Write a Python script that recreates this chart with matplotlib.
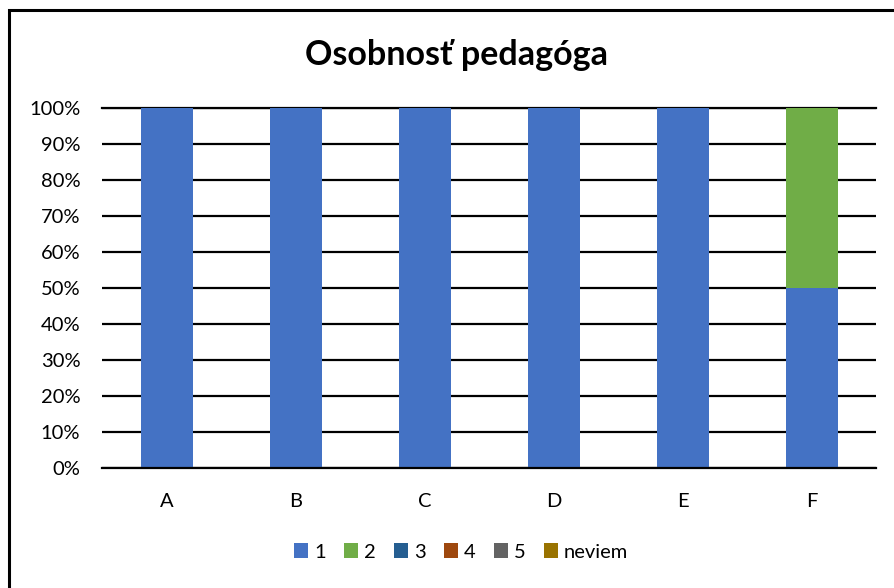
import matplotlib.pyplot as plt
import numpy as np
from matplotlib.patches import Rectangle

plt.rcParams['font.family'] = ['Lato', 'DejaVu Sans']

categories = ['A', 'B', 'C', 'D', 'E', 'F']
series_names = ['1', '2', '3', '4', '5', 'neviem']
values_1 = [100, 100, 100, 100, 100, 50]
values_2 = [0, 0, 0, 0, 0, 50]
values_3 = [0, 0, 0, 0, 0, 0]
values_4 = [0, 0, 0, 0, 0, 0]
values_5 = [0, 0, 0, 0, 0, 0]
values_neviem = [0, 0, 0, 0, 0, 0]
colors = ['#4472C4', '#70AD47', '#255E91', '#9E480E', '#636363', '#997300']

fig = plt.figure(figsize=(8.95, 5.88), dpi=100)
ax = fig.add_axes([102.5 / 895, 1 - 468 / 588, (876.5 - 102.5) / 895, 360 / 588])

x = np.arange(len(categories))
bottom = np.zeros(len(categories))
all_series = [values_1, values_2, values_3, values_4, values_5, values_neviem]
for name, vals, col in zip(series_names, all_series, colors):
    ax.bar(x, vals, 0.4, bottom=bottom, color=col, label=name, zorder=1)
    bottom += np.array(vals)

ax.set_xlim(-0.5, len(categories) - 0.5)
ax.set_ylim(0, 100)
ax.set_yticks(np.arange(0, 101, 10))
ax.set_yticklabels([f'{v}%' for v in range(0, 101, 10)], fontsize=14.5)
ax.set_xticks(x)
ax.set_xticklabels(categories, fontsize=14.5)
ax.tick_params(length=0)
ax.tick_params(axis='y', pad=16)
ax.tick_params(axis='x', pad=18)
ax.yaxis.grid(True, color='black', linewidth=1.6, zorder=0)
ax.set_axisbelow(True)
for s in ax.spines.values():
    s.set_visible(False)
ax.axhline(100, color='black', linewidth=1.6, zorder=0, clip_on=False)
ax.axhline(0, color='black', linewidth=1.6, zorder=3, clip_on=False)

fig.text(457 / 895, 1 - 55 / 588, 'Osobnosť pedagóga', ha='center', va='center',
         fontsize=24.5, fontweight='bold')

fig.legend(loc='center', bbox_to_anchor=(461 / 895, 1 - 552 / 588), ncol=6,
           frameon=False, fontsize=14.5, handlelength=0.7, handleheight=0.7,
           handletextpad=0.3, columnspacing=0.9)

fig.patches.append(Rectangle((9 / 895, -0.1), 1.2, 1 - 10 / 588 + 0.1,
                             transform=fig.transFigure, fill=False,
                             edgecolor='black', linewidth=2.2))

fig.savefig('out.png', dpi=100)
